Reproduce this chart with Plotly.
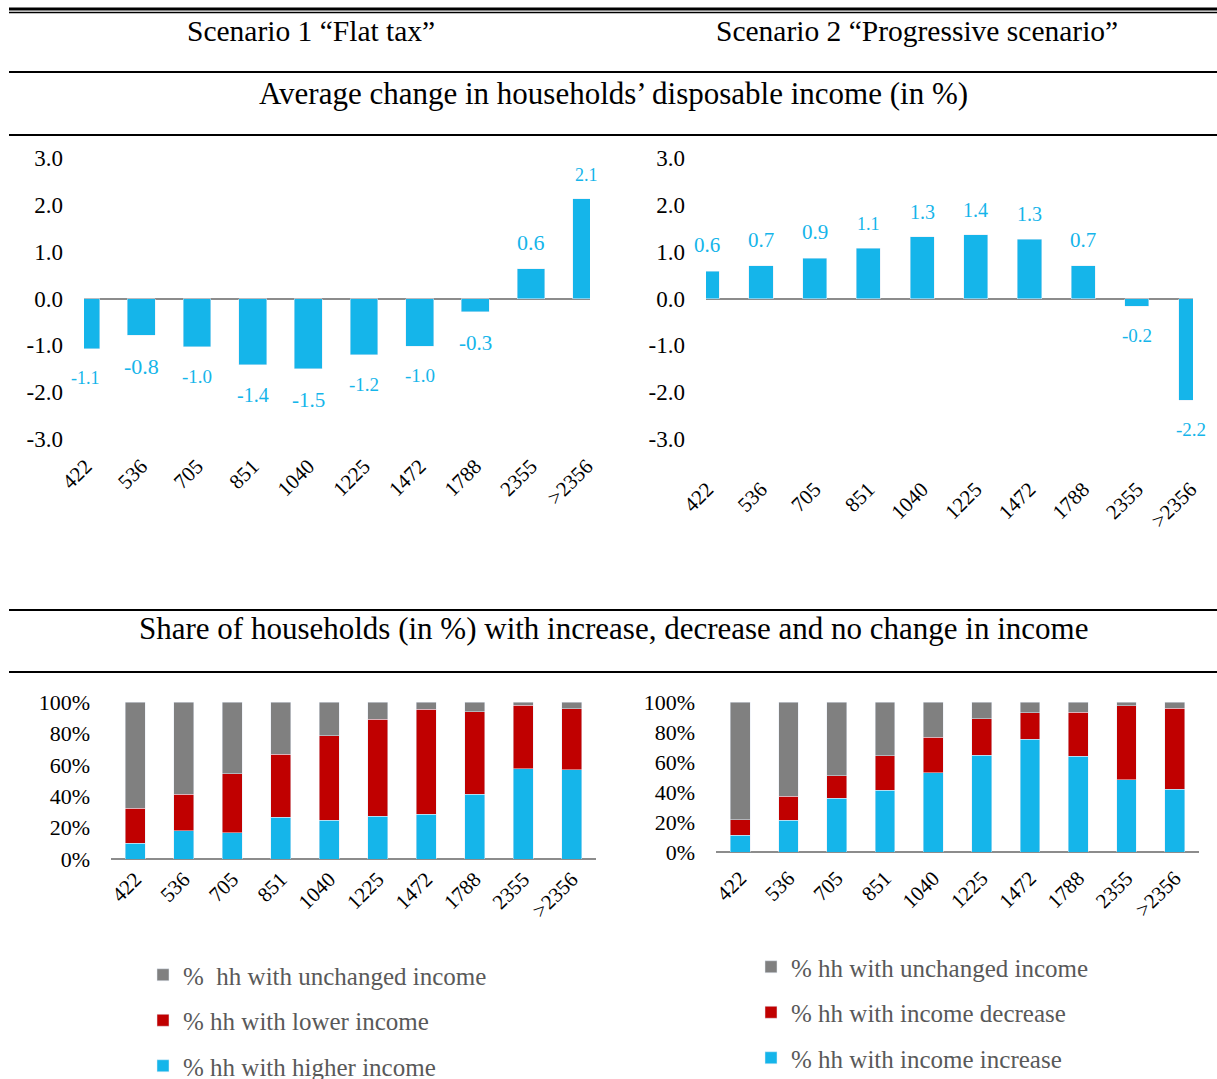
import plotly.graph_objects as go

W, H = 1217, 1079

# ---------------- data ----------------
categories = ["422", "536", "705", "851", "1040", "1225", "1472", "1788", "2355", ">2356"]

flat_tax_change = [-1.07, -0.78, -1.03, -1.41, -1.50, -1.20, -1.02, -0.28, 0.64, 2.13]
progressive_change = [0.58, 0.70, 0.86, 1.07, 1.32, 1.36, 1.26, 0.70, -0.17, -2.17]

flat_higher = [10.1, 17.9, 16.8, 26.7, 24.6, 27.2, 28.4, 41.1, 57.5, 56.8]
flat_lower = [22.1, 23.2, 37.5, 40.0, 53.9, 61.9, 67.0, 52.6, 40.4, 39.0]
flat_unchanged = [67.8, 58.9, 45.7, 33.3, 21.5, 10.9, 4.6, 6.3, 2.1, 4.2]

prog_increase = [11.1, 21.1, 36.0, 41.1, 52.9, 64.4, 75.3, 63.8, 48.2, 41.8]
prog_decrease = [10.5, 16.0, 14.7, 23.1, 23.5, 24.3, 17.6, 29.5, 49.4, 54.2]
prog_unchanged = [78.4, 62.9, 49.3, 35.8, 23.6, 11.3, 7.1, 6.7, 2.4, 4.0]

change_tickvals = [3, 2, 1, 0, -1, -2, -3]
change_ticktext = ["3.0", "2.0", "1.0", "0.0", "-1.0", "-2.0", "-3.0"]
share_tickvals = [0, 20, 40, 60, 80, 100]
share_ticktext = ["0%", "20%", "40%", "60%", "80%", "100%"]

titles_top = ["Scenario 1 \u201cFlat tax\u201d", "Scenario 2 \u201cProgressive scenario\u201d"]
title_avg = "Average change in households\u2019 disposable income (in %)"
title_share = "Share of households (in %) with increase, decrease and no change in income"

names_left = ["%\u00a0 hh with unchanged income", "% hh with lower income", "% hh with higher income"]
names_right = ["% hh with unchanged income", "% hh with income decrease", "% hh with income increase"]

# ---------------- styles ----------------
BLUE = "#15B5EA"
RED = "#C00000"
GRAY = "#808080"
AXIS_GRAY = "#8C8C8C"
FONT = "Liberation Serif"
label_sizes_left = [18, 22, 19, 20, 21, 19, 19, 21, 22, 18]
label_sizes_right = [21, 21, 21, 18, 20, 20, 20, 21, 19, 19]


def px(x):
    return x / W


def py(y):
    return 1 - y / H


fig = go.Figure()

# top bar charts
fig.add_trace(go.Bar(x=categories, y=flat_tax_change, marker_color=BLUE, width=0.5,
                     xaxis="x", yaxis="y", showlegend=False, hoverinfo="x+y"))
fig.add_trace(go.Bar(x=categories, y=progressive_change, marker_color=BLUE, width=0.45,
                     xaxis="x2", yaxis="y2", showlegend=False, hoverinfo="x+y"))

# bottom stacked (blue at the bottom, legend shows gray first)
for vals, name, col, rank in [(flat_higher, names_left[2], BLUE, 3),
                              (flat_lower, names_left[1], RED, 2),
                              (flat_unchanged, names_left[0], GRAY, 1)]:
    fig.add_trace(go.Bar(x=categories, y=vals, name=name, marker_color=col, width=0.41,
                         xaxis="x3", yaxis="y3", legend="legend", legendrank=rank,
                         legendgroup="L%d" % rank))
for vals, name, col, rank in [(prog_increase, names_right[2], BLUE, 3),
                              (prog_decrease, names_right[1], RED, 2),
                              (prog_unchanged, names_right[0], GRAY, 1)]:
    fig.add_trace(go.Bar(x=categories, y=vals, name=name, marker_color=col, width=0.41,
                         xaxis="x4", yaxis="y4", legend="legend2", legendrank=rank,
                         legendgroup="R%d" % rank))

tickfont = dict(family=FONT, size=21, color="#000000")
ytickfont = dict(family=FONT, size=23, color="#000000")
ytickfont_pct = dict(family=FONT, size=22, color="#000000")

xcommon = dict(type="category", showgrid=False, showline=False, zeroline=False,
               ticks="", tickangle=-45, tickfont=tickfont, fixedrange=True)

fig.update_layout(
    width=W, height=H, margin=dict(l=0, r=0, t=0, b=0, pad=0, autoexpand=False),
    paper_bgcolor="white", plot_bgcolor="white",
    barmode="stack", bargap=0.5,
    font=dict(family=FONT, color="#000000"),
    xaxis=dict(**xcommon, domain=[px(84), px(590)], anchor="y", range=[-0.03, 9.06],
               ticklabelstandoff=10),
    yaxis=dict(domain=[py(439), py(158)], anchor="x", range=[-3, 3],
               tickvals=change_tickvals, ticktext=change_ticktext, tickfont=ytickfont,
               showgrid=False, zeroline=True, zerolinecolor=AXIS_GRAY, zerolinewidth=2,
               ticks="", ticklabelstandoff=20, fixedrange=True),
    xaxis2=dict(**xcommon, domain=[px(706), px(1193)], anchor="y2", range=[-0.024, 9.045],
                ticklabelstandoff=33),
    yaxis2=dict(domain=[py(439), py(158)], anchor="x2", range=[-3, 3],
                tickvals=change_tickvals, ticktext=change_ticktext, tickfont=ytickfont,
                showgrid=False, zeroline=True, zerolinecolor=AXIS_GRAY, zerolinewidth=2,
                ticks="", ticklabelstandoff=20, fixedrange=True),
    xaxis3=dict(**xcommon, domain=[px(111), px(596)], anchor="y3", range=[-0.5, 9.5],
                ticklabelstandoff=3),
    yaxis3=dict(domain=[py(859), py(702)], anchor="x3", range=[0, 100],
                tickvals=share_tickvals, ticktext=share_ticktext, tickfont=ytickfont_pct,
                showgrid=False, zeroline=True, zerolinecolor=AXIS_GRAY, zerolinewidth=2,
                ticks="", ticklabelstandoff=20, fixedrange=True),
    xaxis4=dict(**xcommon, domain=[px(716), px(1199)], anchor="y4", range=[-0.5, 9.5],
                ticklabelstandoff=9),
    yaxis4=dict(domain=[py(852), py(702)], anchor="x4", range=[0, 100],
                tickvals=share_tickvals, ticktext=share_ticktext, tickfont=ytickfont_pct,
                showgrid=False, zeroline=True, zerolinecolor=AXIS_GRAY, zerolinewidth=2,
                ticks="", ticklabelstandoff=20, fixedrange=True),
    legend=dict(x=px(143), y=py(952), xanchor="left", yanchor="top",
                traceorder="grouped", tracegroupgap=10,
                font=dict(family=FONT, size=25, color="#595959"), bgcolor="rgba(0,0,0,0)"),
    legend2=dict(x=px(751), y=py(944), xanchor="left", yanchor="top",
                 traceorder="grouped", tracegroupgap=10,
                 font=dict(family=FONT, size=25, color="#595959"), bgcolor="rgba(0,0,0,0)"),
)

annotations = []
# data labels
for xa, ya, vals, sizes in [("x", "y", flat_tax_change, label_sizes_left),
                            ("x2", "y2", progressive_change, label_sizes_right)]:
    for i, v in enumerate(vals):
        annotations.append(dict(
            x=i, y=v, xref=xa, yref=ya, text=f"{v:.1f}", showarrow=False,
            yanchor="bottom" if v >= 0 else "top", yshift=12 if v >= 0 else -17,
            font=dict(family=FONT, size=sizes[i], color=BLUE)))

# section titles
for txt, cx, cy, size in [(titles_top[0], 311, 31, 29.5), (titles_top[1], 917, 31, 29.5),
                          (title_avg, 613, 93, 31), (title_share, 613, 628, 31)]:
    annotations.append(dict(x=px(cx), y=py(cy), xref="paper", yref="paper", text=txt,
                            showarrow=False, xanchor="center", yanchor="middle",
                            font=dict(family=FONT, size=size, color="#000000")))
fig.update_layout(annotations=annotations)

# horizontal rules
shapes = []
for yy, wdt in [(9, 3), (12.5, 1.5), (72, 2), (135, 2), (610, 2), (672, 2)]:
    shapes.append(dict(type="line", xref="paper", yref="paper", x0=px(9), x1=1,
                       y0=py(yy), y1=py(yy), line=dict(color="#000000", width=wdt)))
fig.update_layout(shapes=shapes)

fig.write_html("out.html", config={"displayModeBar": False},
               post_script="document.body.style.margin='0';")
